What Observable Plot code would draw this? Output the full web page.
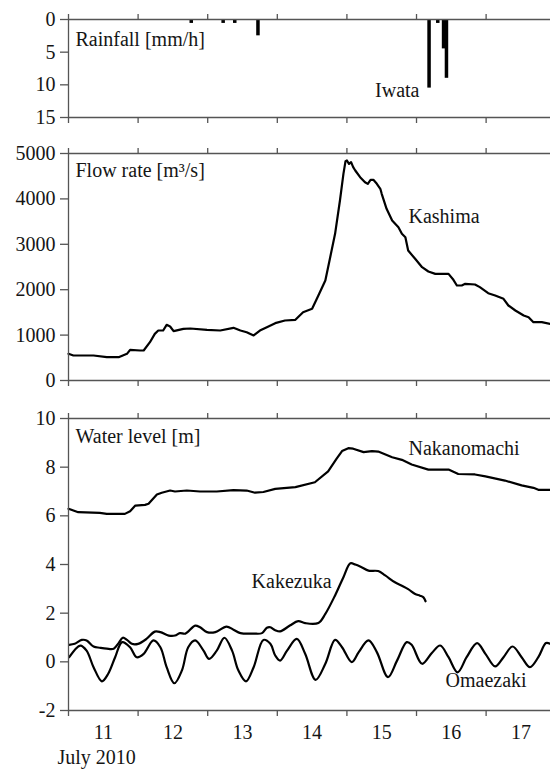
<!DOCTYPE html>
<html><head><meta charset="utf-8">
<script src="https://cdn.jsdelivr.net/npm/d3@7"></script>
<script src="https://cdn.jsdelivr.net/npm/@observablehq/plot@0.6"></script>
<style>
html,body{margin:0;padding:0;background:#fff;overflow:hidden}
#chart{position:relative;width:550px;height:769px;background:#fff}
#chart svg{position:absolute;left:0}
#chart svg text{font-family:"Liberation Serif",serif}
</style></head><body><div id="chart"></div>
<script>
// x values are days since July 11 2010, 00:00
const dayTicks = [0, 1, 2, 3, 4, 5, 6];
const dayLabelPos = [0.5, 1.5, 2.5, 3.5, 4.5, 5.5, 6.5];
const dayLabels = ["11", "12", "13", "14", "15", "16", "17"];

const rainTicks = [0, 5, 10, 15];
const flowTicks = [0, 1000, 2000, 3000, 4000, 5000];
const levelTicks = [-2, 0, 2, 4, 6, 8, 10];

// Iwata hourly rainfall (hour since Jul 11 00:00, mm/h)
const rainHour = [42, 53, 57, 65, 124, 127, 129, 130];
const rainValue = [0.6, 0.6, 0.6, 2.5, 10.5, 0.6, 4.5, 9.0];

// Kashima flow rate
const kashimaDay = [0, 0.07, 0.36, 0.55, 0.72, 0.84, 0.885, 1.03, 1.08, 1.17, 1.24, 1.29, 1.36, 1.41, 1.46, 1.51, 1.65, 1.75, 1.99, 2.18, 2.37, 2.47, 2.56, 2.66, 2.75, 2.85, 2.97, 3.11, 3.26, 3.37, 3.50, 3.59, 3.69, 3.76, 3.83, 3.90, 3.95, 3.98, 4.00, 4.03, 4.06, 4.09, 4.12, 4.19, 4.26, 4.30, 4.34, 4.38, 4.43, 4.48, 4.50, 4.57, 4.65, 4.74, 4.79, 4.84, 4.88, 4.98, 5.08, 5.17, 5.27, 5.46, 5.53, 5.58, 5.65, 5.70, 5.84, 5.91, 6.03, 6.13, 6.25, 6.32, 6.42, 6.54, 6.61, 6.68, 6.80, 6.92];
const kashimaFlow = [588, 551, 551, 514, 514, 588, 676, 661, 661, 844, 1028, 1101, 1101, 1226, 1190, 1087, 1138, 1145, 1116, 1101, 1160, 1101, 1064, 992, 1101, 1175, 1263, 1322, 1336, 1505, 1579, 1872, 2203, 2716, 3231, 3965, 4552, 4831, 4846, 4770, 4810, 4700, 4626, 4478, 4368, 4332, 4420, 4420, 4332, 4222, 4112, 3781, 3524, 3377, 3231, 3157, 2863, 2680, 2496, 2401, 2349, 2349, 2218, 2093, 2093, 2130, 2115, 2056, 1923, 1872, 1799, 1652, 1542, 1432, 1395, 1285, 1285, 1248];

// Nakanomachi water level
const nakanoDay = [0, 0.14, 0.45, 0.55, 0.81, 0.885, 0.96, 1.10, 1.15, 1.27, 1.34, 1.46, 1.53, 1.70, 1.89, 2.13, 2.37, 2.56, 2.68, 2.80, 2.97, 3.26, 3.54, 3.73, 3.85, 3.93, 4.02, 4.09, 4.24, 4.36, 4.45, 4.65, 4.79, 4.93, 5.17, 5.46, 5.60, 5.84, 5.99, 6.27, 6.51, 6.68, 6.75, 6.92];
const nakanoLevel = [6.29, 6.15, 6.12, 6.08, 6.08, 6.19, 6.42, 6.45, 6.50, 6.88, 6.95, 7.04, 7.00, 7.04, 7.00, 7.00, 7.06, 7.04, 6.95, 6.98, 7.11, 7.18, 7.38, 7.83, 8.34, 8.66, 8.78, 8.76, 8.62, 8.66, 8.64, 8.41, 8.30, 8.11, 7.90, 7.90, 7.72, 7.70, 7.62, 7.45, 7.25, 7.15, 7.07, 7.07];

// Kakezuka water level
const kakeDay = [0.01, 0.09, 0.19, 0.26, 0.36, 0.45, 0.55, 0.65, 0.72, 0.78, 0.84, 0.91, 1.00, 1.12, 1.24, 1.32, 1.44, 1.53, 1.60, 1.68, 1.82, 1.89, 1.99, 2.11, 2.27, 2.37, 2.47, 2.66, 2.78, 2.85, 2.90, 2.97, 3.04, 3.18, 3.30, 3.40, 3.59, 3.69, 3.83, 3.95, 4.05, 4.12, 4.21, 4.31, 4.45, 4.55, 4.69, 4.79, 4.88, 4.98, 5.05, 5.10, 5.13];
const kakeLevel = [0.70, 0.74, 0.90, 0.88, 0.63, 0.58, 0.54, 0.54, 0.77, 0.99, 0.90, 0.74, 0.74, 0.94, 1.24, 1.22, 1.08, 1.08, 1.18, 1.16, 1.49, 1.42, 1.22, 1.22, 1.45, 1.32, 1.18, 1.16, 1.18, 1.40, 1.42, 1.30, 1.25, 1.49, 1.67, 1.59, 1.60, 1.97, 2.73, 3.48, 4.05, 4.00, 3.89, 3.75, 3.73, 3.55, 3.27, 3.13, 2.99, 2.79, 2.72, 2.65, 2.49];

// Omaezaki tide level
const omaeDay = [0.01, 0.17, 0.26, 0.36, 0.48, 0.57, 0.67, 0.77, 0.885, 0.98, 1.08, 1.22, 1.32, 1.41, 1.52, 1.63, 1.72, 1.82, 1.94, 2.02, 2.13, 2.24, 2.35, 2.44, 2.55, 2.66, 2.80, 2.90, 2.97, 3.04, 3.14, 3.28, 3.40, 3.55, 3.69, 3.83, 3.93, 4.07, 4.17, 4.31, 4.43, 4.59, 4.72, 4.86, 4.93, 5.08, 5.22, 5.34, 5.46, 5.59, 5.72, 5.87, 5.99, 6.13, 6.25, 6.38, 6.51, 6.63, 6.75, 6.86, 6.92];
const omaeLevel = [0.19, 0.67, 0.46, -0.22, -0.80, -0.49, 0.19, 0.81, 0.60, 0.19, 0.33, 0.88, 0.60, -0.22, -0.88, -0.35, 0.60, 0.88, 0.46, 0.12, 0.46, 0.99, 0.46, -0.35, -0.80, -0.22, 0.90, 0.74, 0.26, 0.05, 0.46, 0.94, 0.33, -0.74, -0.08, 0.90, 0.60, -0.01, 0.40, 0.88, 0.40, -0.63, 0.05, 0.81, 0.70, -0.08, 0.36, 0.67, 0.19, -0.43, 0.19, 0.77, 0.33, -0.19, 0.19, 0.63, 0.19, -0.22, 0.19, 0.77, 0.74];

const FONT = "Liberation Serif";
const FS = 20;
const AX = "#555";
const TXT = "#151515";
const xScale = {type: "linear", domain: [0, 6.925]};
const T = {fill: TXT, fontSize: FS, fontFamily: FONT};

function frameMarks(yDomain, yTicks) {
  return [
    Plot.ruleY(yDomain, {stroke: AX, strokeWidth: 1.3}),
    Plot.ruleX([0], {stroke: AX, strokeWidth: 1.3}),
    Plot.axisX({anchor: "top", ticks: dayTicks, tickSize: 6, tickFormat: () => "", stroke: AX, strokeWidth: 1.3}),
    Plot.axisX({anchor: "bottom", ticks: dayTicks, tickSize: 6, tickFormat: () => "", stroke: AX, strokeWidth: 1.3}),
    Plot.axisY({ticks: yTicks, tickSize: 8, tickPadding: 5, tickFormat: d => String(d), stroke: AX, strokeWidth: 1.3, fontVariant: "normal", ...T})
  ];
}
const style = {fontFamily: FONT, fontSize: FS + "px", background: "transparent", color: TXT, overflow: "visible"};

const chart = document.getElementById("chart");

// Panel 1: rainfall
const p1 = Plot.plot({
  width: 550, height: 140, marginLeft: 68, marginRight: 0, marginTop: 19, marginBottom: 23,
  style,
  x: xScale,
  y: {domain: [0, 15], reverse: true},
  marks: [
    Plot.rect(rainValue, {x1: (d, i) => rainHour[i] / 24, x2: (d, i) => (rainHour[i] + 1) / 24, y1: 0, y2: d => d, fill: "#000", insetLeft: -0.3, insetRight: -0.3}),
    ...frameMarks([0, 15], rainTicks),
    Plot.text(["Rainfall [mm/h]"], {frameAnchor: "top-left", dx: 7, dy: 26, lineAnchor: "bottom", textAnchor: "start", ...T}),
    Plot.text(["Iwata"], {x: 5.043, y: 11.8, lineAnchor: "bottom", textAnchor: "end", ...T})
  ]
});
p1.style.top = "0px";
chart.appendChild(p1);

// Panel 2: flow rate
const p2 = Plot.plot({
  width: 550, height: 260, marginLeft: 68, marginRight: 0, marginTop: 13, marginBottom: 20,
  style,
  x: xScale,
  y: {domain: [0, 5000]},
  marks: [
    Plot.line(kashimaFlow, {x: kashimaDay, y: kashimaFlow, stroke: "#000", strokeWidth: 2.2, strokeLinejoin: "round"}),
    ...frameMarks([0, 5000], flowTicks),
    Plot.text(["Flow rate [m³/s]"], {frameAnchor: "top-left", dx: 7, dy: 23, lineAnchor: "bottom", textAnchor: "start", ...T}),
    Plot.text(["Kashima"], {x: 4.885, y: 3460, lineAnchor: "bottom", textAnchor: "start", ...T})
  ]
});
p2.style.top = "140px";
chart.appendChild(p2);

// Panel 3: water level
const p3 = Plot.plot({
  width: 550, height: 369, marginLeft: 68, marginRight: 0, marginTop: 18, marginBottom: 59,
  style,
  x: xScale,
  y: {domain: [-2, 10]},
  marks: [
    Plot.line(nakanoLevel, {x: nakanoDay, y: nakanoLevel, stroke: "#000", strokeWidth: 2.2, strokeLinejoin: "round"}),
    Plot.line(kakeLevel, {x: kakeDay, y: kakeLevel, stroke: "#000", strokeWidth: 2.2, curve: "catmull-rom", strokeLinejoin: "round"}),
    Plot.line(omaeLevel, {x: omaeDay, y: omaeLevel, stroke: "#000", strokeWidth: 2.2, curve: "catmull-rom", strokeLinejoin: "round"}),
    ...frameMarks([-2, 10], levelTicks),
    Plot.axisX({anchor: "bottom", ticks: dayLabelPos, tickSize: 0, tickPadding: 14, tickFormat: d => dayLabels[dayLabelPos.indexOf(d)], fontVariant: "normal", ...T}),
    Plot.text(["Water level [m]"], {frameAnchor: "top-left", dx: 7, dy: 24, lineAnchor: "bottom", textAnchor: "start", ...T}),
    Plot.text(["Nakanomachi"], {x: 4.885, y: 8.48, lineAnchor: "bottom", textAnchor: "start", ...T}),
    Plot.text(["Kakezuka"], {x: 3.779, y: 3.05, lineAnchor: "bottom", textAnchor: "end", ...T}),
    Plot.text(["Omaezaki"], {x: 5.417, y: -1.015, lineAnchor: "bottom", textAnchor: "start", ...T}),
    Plot.text(["July 2010"], {frameAnchor: "bottom-left", dx: -11, dy: 53, lineAnchor: "bottom", textAnchor: "start", ...T})
  ]
});
p3.style.top = "400px";
chart.appendChild(p3);
</script>
</body></html>
